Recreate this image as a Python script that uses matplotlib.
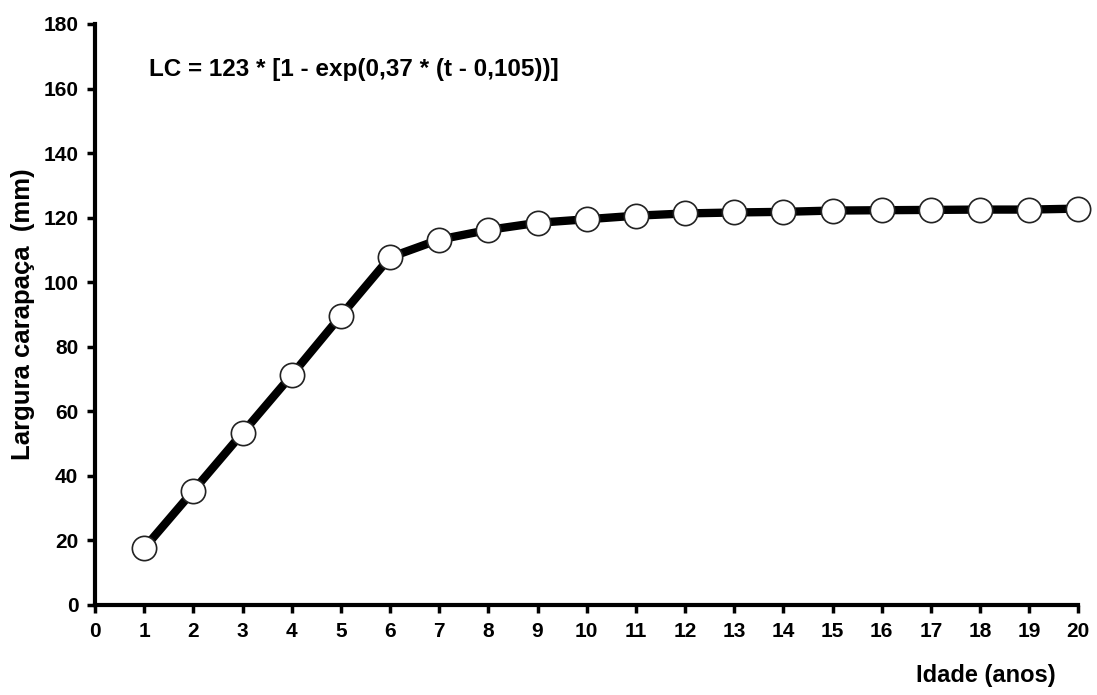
import matplotlib.pyplot as plt

# Data
idade = list(range(1, 21))
largura = [17.6, 35.4, 53.3, 71.2, 89.6, 107.7, 113.2, 116.2, 118.4, 119.5,
           120.6, 121.3, 121.6, 121.8, 122.2, 122.3, 122.4, 122.5, 122.5, 122.8]

x_ticks = list(range(0, 21))
y_ticks = list(range(0, 181, 20))

plt.rcParams['font.family'] = ['Liberation Sans', 'DejaVu Sans']
plt.rcParams['font.weight'] = 'bold'

fig = plt.figure(figsize=(10.97, 6.95), dpi=100)
ax = fig.add_axes([0.0866, 0.1295, 0.8964, 0.836])

ax.plot(idade, largura, color='black', lw=6, marker='o', ms=17.5,
        mfc='white', mec='#222222', mew=1.2, clip_on=False, zorder=3)

ax.set_xlim(0, 20)
ax.set_ylim(0, 180)
ax.set_xticks(x_ticks)
ax.set_yticks(y_ticks)

for s in ['top', 'right']:
    ax.spines[s].set_visible(False)
for s in ['left', 'bottom']:
    ax.spines[s].set_linewidth(3)

ax.tick_params(direction='out', length=6, width=2.5, pad=6, labelsize=15)
for lab in ax.get_xticklabels() + ax.get_yticklabels():
    lab.set_fontweight('bold')

ax.set_ylabel('Largura carapaça  (mm)', fontsize=18.5, fontweight='bold', labelpad=6)
fig.text(0.962, 0.012, 'Idade (anos)', ha='right', va='bottom',
         fontsize=17, fontweight='bold')

ax.text(1.1, 166, 'LC = 123 * [1 - exp(0,37 * (t - 0,105))]', fontsize=17.5,
        fontweight='bold', va='center')

fig.savefig('out.png', dpi=100)
